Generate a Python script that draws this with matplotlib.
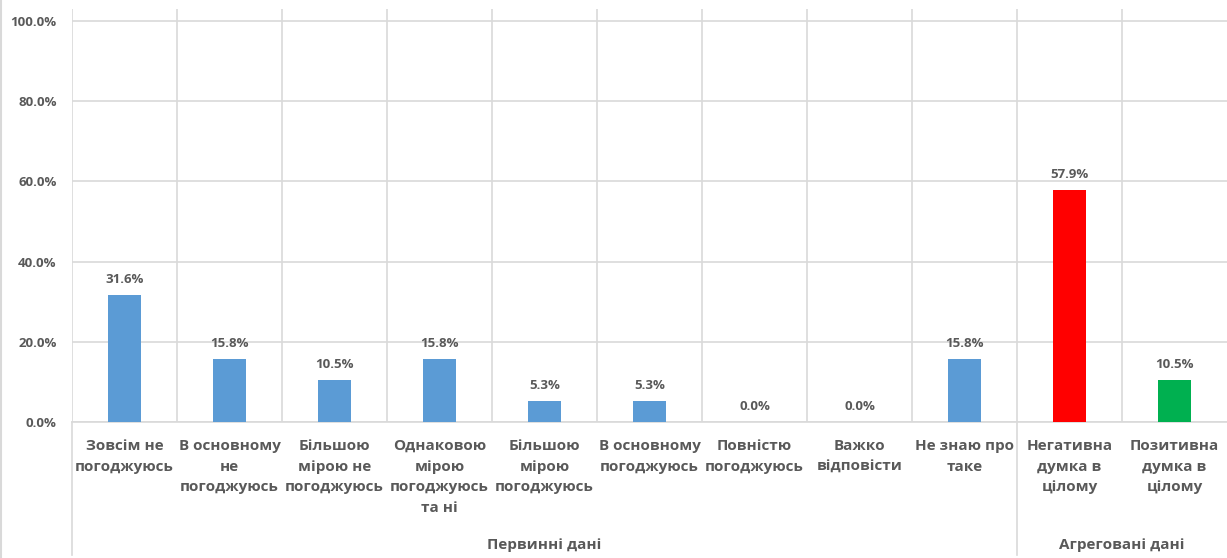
import matplotlib
matplotlib.use("Agg")
import matplotlib.pyplot as plt
from matplotlib.lines import Line2D
from matplotlib.ticker import PercentFormatter

categories = [
    "Зовсім не\nпогоджуюсь",
    "В основному\nне\nпогоджуюсь",
    "Більшою\nмірою не\nпогоджуюсь",
    "Однаковою\nмірою\nпогоджуюсь\nта ні",
    "Більшою\nмірою\nпогоджуюсь",
    "В основному\nпогоджуюсь",
    "Повністю\nпогоджуюсь",
    "Важко\nвідповісти",
    "Не знаю про\nтаке",
    "Негативна\nдумка в\nцілому",
    "Позитивна\nдумка в\nцілому",
]
values = [31.6, 15.8, 10.5, 15.8, 5.3, 5.3, 0.0, 0.0, 15.8, 57.9, 10.5]
groups = ["Первинні дані", "Агреговані дані"]
group_sizes = [9, 2]
colors = ["#5B9BD5"] * 9 + ["#FF0000", "#00B050"]

W, H = 1227, 558
DPI = 100
fig = plt.figure(figsize=(W / DPI, H / DPI), dpi=DPI)
plt.rcParams['font.family'] = ['Open Sans', 'DejaVu Sans']
txt = "#595959"
grid = "#D9D9D9"

left, right, bottom, top = 72, 1227, 422, 9
ax = fig.add_axes([left / W, (H - bottom) / H, (right - left) / W, (bottom - top) / H])
n = len(categories)
x = list(range(n))
ax.bar(x, values, width=0.31, color=colors, zorder=3)
ax.set_xlim(-0.5, n - 0.5)
ax.set_ylim(0, 103)
ax.set_yticks([0, 20, 40, 60, 80, 100])
ax.yaxis.set_major_formatter(PercentFormatter(decimals=1))
ax.tick_params(axis='y', length=0, pad=11, labelsize=9.5, labelcolor=txt)
for lab in ax.get_yticklabels():
    lab.set_fontweight('bold')
ax.set_xticks([])
for s in ['top', 'right', 'left']:
    ax.spines[s].set_visible(False)
ax.spines['bottom'].set_color(grid)
ax.spines['bottom'].set_linewidth(1.2)
ax.grid(axis='y', color=grid, linewidth=1.2, zorder=0)
for k in range(0, n):
    ax.axvline(k - 0.5, color=grid, linewidth=1.2, zorder=0)

for xi, v in zip(x, values):
    ax.annotate(f"{v:.1f}%", (xi, v), xytext=(0, 9), textcoords='offset pixels',
                ha='center', va='bottom', fontsize=9.5, fontweight='bold', color=txt)

for xi, c in zip(x, categories):
    ax.annotate(c, (xi, 0), xycoords=('data', 'axes fraction'), xytext=(0, -17),
                textcoords='offset pixels', ha='center', va='top', fontsize=11,
                fontweight='bold', color=txt, linespacing=1.6, annotation_clip=False)

# group labels and separators
start = 0
for g, sz in zip(groups, group_sizes):
    center = start + (sz - 1) / 2
    ax.annotate(g, (center, 0), xycoords=('data', 'axes fraction'), xytext=(0, -(545 - bottom)),
                textcoords='offset pixels', ha='center', va='center', fontsize=11,
                fontweight='bold', color=txt, annotation_clip=False)
    sep = start - 0.5
    px = ax.transData.transform((sep, 0))[0]
    fig.add_artist(Line2D([px / W, px / W], [(H - bottom) / H, (H - 555) / H],
                          color=grid, linewidth=1.2, transform=fig.transFigure))
    start += sz

# chart border on left
fig.add_artist(Line2D([0.5 / W, 0.5 / W], [0, 1], color=grid, linewidth=1.5, transform=fig.transFigure))

fig.savefig("out.png", dpi=DPI)
